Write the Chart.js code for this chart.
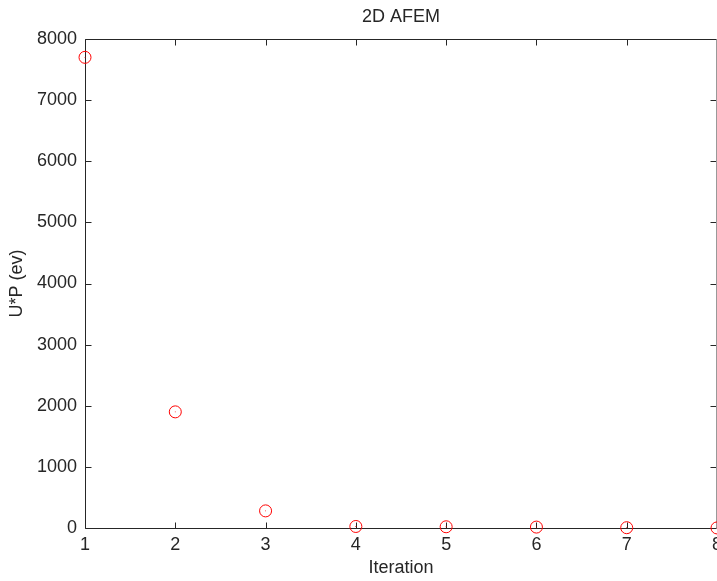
<!DOCTYPE html>
<html>
<head>
<meta charset="utf-8">
<script src="https://cdn.jsdelivr.net/npm/chart.js@4.4.1/dist/chart.umd.min.js"></script>
<style>
html,body{margin:0;padding:0;background:#fff;}
#wrap{width:717px;height:581px;}
</style>
</head>
<body>
<div id="wrap"><canvas id="c" width="717" height="581"></canvas></div>
<script>
const iterations = [1, 2, 3, 4, 5, 6, 7, 8];
const upValues = [7700, 1900, 280, 25, 20, 15, 5, 1];
const xTicks = [1, 2, 3, 4, 5, 6, 7, 8];
const yTicks = [0, 1000, 2000, 3000, 4000, 5000, 6000, 7000, 8000];
const chartTitle = '2D AFEM';
const xTitle = 'Iteration';
const yTitle = 'U*P (ev)';

const points = iterations.map((x, i) => ({x: x, y: upValues[i]}));
const FONT = {family: "'Liberation Sans', Arial, sans-serif", size: 18};
const INK = '#262626';

const framePlugin = {
  id: 'frame',
  beforeDatasetsDraw(chart) {
    const {ctx, chartArea: a, scales} = chart;
    const L = Math.round(a.left) + 0.5, R = Math.round(a.right) - 0.5;
    const T = Math.round(a.top) + 0.5, B = Math.round(a.bottom) + 0.5;
    ctx.save();
    ctx.lineWidth = 1;
    ctx.strokeStyle = INK;
    ctx.beginPath();
    ctx.moveTo(L, B); ctx.lineTo(L, T); ctx.lineTo(R, T);
    ctx.moveTo(L, B); ctx.lineTo(R, B);
    const tl = 6;
    xTicks.forEach(v => {
      const px = Math.round(scales.x.getPixelForValue(v)) + 0.5;
      ctx.moveTo(px, B); ctx.lineTo(px, B - tl);
      ctx.moveTo(px, T); ctx.lineTo(px, T + tl);
    });
    yTicks.forEach(v => {
      const py = Math.round(scales.y.getPixelForValue(v)) + 0.5;
      ctx.moveTo(L, py); ctx.lineTo(L + tl, py);
      ctx.moveTo(R, py); ctx.lineTo(R - tl, py);
    });
    ctx.stroke();
    ctx.strokeStyle = '#999';
    ctx.beginPath();
    ctx.moveTo(R, T); ctx.lineTo(R, B);
    ctx.stroke();
    ctx.restore();
  }
};

new Chart(document.getElementById('c'), {
  type: 'scatter',
  data: {
    datasets: [
      {
        data: points,
        pointStyle: 'circle',
        pointRadius: 6,
        pointHoverRadius: 6,
        borderColor: '#ff0000',
        backgroundColor: 'rgba(0,0,0,0)',
        borderWidth: 1,
        clip: false
      },
      {
        data: points,
        pointStyle: 'rect',
        pointRadius: 0.6,
        borderColor: '#ff0000',
        backgroundColor: '#ff0000',
        borderWidth: 0,
        clip: false
      }
    ]
  },
  options: {
    responsive: false,
    animation: false,
    events: [],
    layout: {autoPadding: false, padding: {left: 0, right: 0, top: 0, bottom: 0}},
    plugins: {
      legend: {display: false},
      tooltip: {enabled: false},
      title: {
        display: true,
        fullSize: false,
        text: chartTitle,
        color: INK,
        font: {family: FONT.family, size: 18, weight: 'normal'},
        padding: {top: 6, bottom: 11.4}
      }
    },
    scales: {
      x: {
        type: 'linear',
        min: 1, max: 8,
        afterBuildTicks(s) { s.ticks = xTicks.map(v => ({value: v})); },
        afterFit(s) { s.height = 53; s.paddingLeft = 0; s.paddingRight = 0; },
        grid: {display: false, drawTicks: false},
        border: {display: false},
        ticks: {color: INK, font: FONT, padding: 6, maxRotation: 0, autoSkip: false},
        title: {display: true, text: xTitle, color: INK, font: FONT, padding: {top: 0, bottom: 2}}
      },
      y: {
        type: 'linear',
        min: 0, max: 8000,
        afterBuildTicks(s) { s.ticks = yTicks.map(v => ({value: v})); },
        afterFit(s) { s.width = 85; s.paddingTop = 0; s.paddingBottom = 0; },
        grid: {display: false, drawTicks: false},
        border: {display: false},
        ticks: {color: INK, font: FONT, padding: 8, autoSkip: false, callback: v => String(v)},
        title: {display: true, text: yTitle, color: INK, font: FONT, padding: {top: 6, bottom: 0}}
      }
    }
  },
  plugins: [framePlugin]
});
</script>
</body>
</html>
